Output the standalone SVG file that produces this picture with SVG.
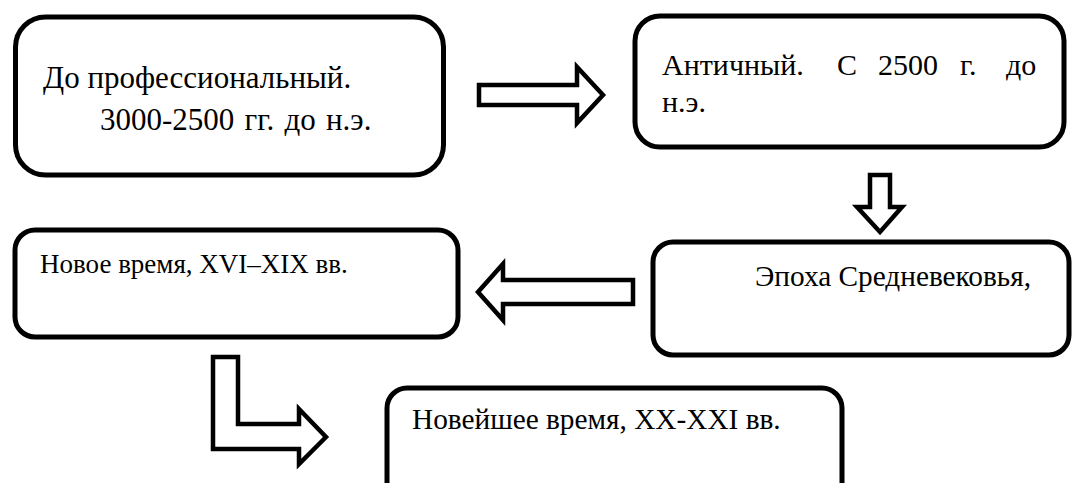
<svg xmlns="http://www.w3.org/2000/svg" width="1072" height="483" viewBox="0 0 1072 483">
<style>
.box{fill:#fff;stroke:#000;stroke-width:5}
.arr{fill:#fff;stroke:#000;stroke-width:4.5;stroke-linejoin:miter}
text{font-family:'Liberation Serif','Times New Roman','DejaVu Serif',serif;font-size:27px;fill:#000}
.big{font-size:31px}
.mid{font-size:30px}
.m2{font-size:29.3px}
</style>
<rect width="1072" height="483" fill="#fff"/>
<g id="connectors">
<path class="arr" d="M479,85 H577 V67 L603,95 L577,123 V105 H479 Z"/>
<path class="arr" d="M870,175 H890 V207 H902 L880,232 L857,207 H870 Z"/>
<path class="arr" d="M633,280 H503 V264 L478,292 L503,320 V304 H633 Z"/>
<path class="arr" d="M213,357 H238 V424 H299 V409 L326,437 L299,464 V449 H213 Z"/>
</g>
<g id="node1">
<rect class="box" x="15.5" y="17" width="428" height="158" rx="30"/>
<text class="big" font-family="Liberation Serif, serif" x="43" y="88">До профессиональный.</text>
<text class="big" font-family="Liberation Serif, serif" x="100" y="130" word-spacing="2.5">3000-2500 гг. до н.э.</text>
</g>
<g id="node2">
<rect class="box" x="635" y="16" width="429" height="131" rx="25"/>
<text class="mid" font-family="Liberation Serif, serif" y="75"><tspan x="662">Античный.</tspan><tspan x="837">С</tspan><tspan x="878">2500</tspan><tspan x="960">г.</tspan><tspan x="1006">до</tspan></text>
<text class="mid" font-family="Liberation Serif, serif" x="662" y="112">н.э.</text>
</g>
<g id="node3">
<rect class="box" x="653" y="242" width="416" height="113" rx="20"/>
<text class="m2" font-family="Liberation Serif, serif" x="755" y="286">Эпоха Средневековья,</text>
</g>
<g id="node4">
<rect class="box" x="15" y="230" width="443" height="107" rx="20"/>
<text font-family="Liberation Serif, serif" x="40" y="273">Новое время, XVI–XIX вв.</text>
</g>
<g id="node5">
<rect class="box" x="387" y="388" width="455" height="130" rx="20"/>
<text class="m2" font-family="Liberation Serif, serif" x="412" y="429">Новейшее время, XX-XXI вв.</text>
</g>
</svg>
